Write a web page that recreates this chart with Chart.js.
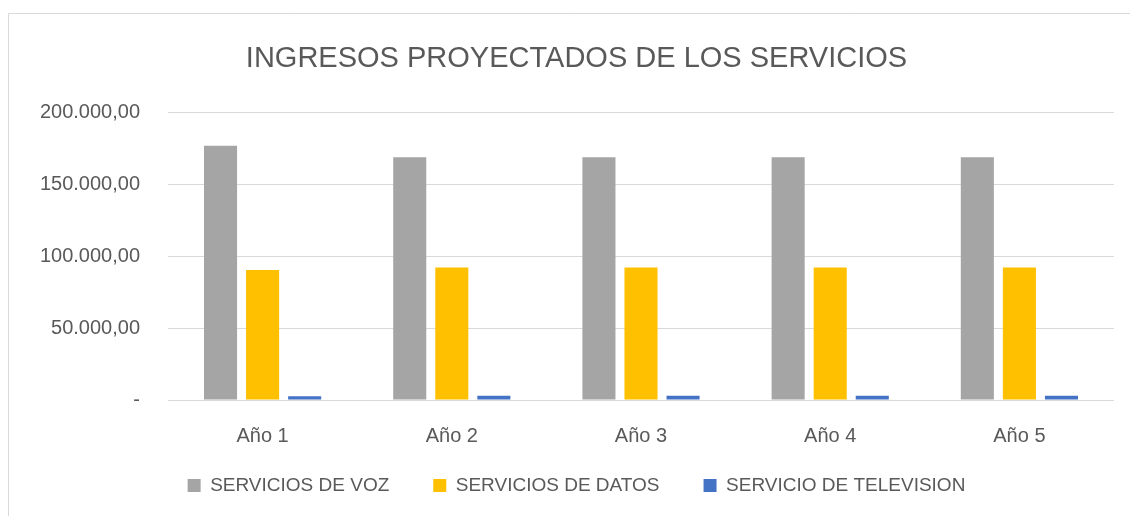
<!DOCTYPE html>
<html>
<head>
<meta charset="utf-8">
<script src="https://cdn.jsdelivr.net/npm/chart.js@4"></script>
<style>
  html, body { margin: 0; padding: 0; background: #ffffff; }
  #wrap { position: relative; width: 1130px; height: 516px; overflow: hidden; }
  canvas { position: absolute; left: 0; top: 0; }
</style>
</head>
<body>
<div id="wrap"><canvas id="c" width="1130" height="516"></canvas></div>
<script>
const categories = ['Año 1', 'Año 2', 'Año 3', 'Año 4', 'Año 5'];
const serviciosVoz = [176500, 168500, 168500, 168500, 168500];
const serviciosDatos = [90300, 92000, 92000, 92000, 92000];
const servicioTelevision = [2600, 3000, 3000, 3000, 3000];
const yTickValues = [0, 50000, 100000, 150000, 200000];
const yTickLabels = ['-', '50.000,00', '100.000,00', '150.000,00', '200.000,00'];

const FONT = '"Liberation Sans", Arial, sans-serif';
const TXT = '#595959';

const frame = {
  id: 'frame',
  beforeDraw(chart) {
    const ctx = chart.ctx;
    ctx.save();
    ctx.fillStyle = '#ffffff';
    ctx.fillRect(0, 0, chart.width, chart.height);
    ctx.strokeStyle = '#d9d9d9';
    ctx.lineWidth = 1;
    ctx.beginPath();
    ctx.moveTo(8.5, chart.height);
    ctx.lineTo(8.5, 13.5);
    ctx.lineTo(chart.width, 13.5);
    ctx.stroke();
    ctx.restore();
  }
};

// let the x-axis labels overflow the (tight) x-axis box instead of being clipped
const labelRoom = {
  id: 'labelRoom',
  afterLayout(chart) {
    const x = chart.scales.x;
    if (x) { x.bottom = x.top + 60; }
  }
};

new Chart(document.getElementById('c'), {
  type: 'bar',
  data: {
    labels: categories,
    datasets: [
      { label: 'SERVICIOS DE VOZ', data: serviciosVoz, backgroundColor: '#A5A5A5' },
      { label: 'SERVICIOS DE DATOS', data: serviciosDatos, backgroundColor: '#FFC000' },
      { label: 'SERVICIO DE TELEVISION', data: servicioTelevision, backgroundColor: '#4472C4' }
    ]
  },
  plugins: [frame, labelRoom],
  options: {
    responsive: false,
    animation: false,
    layout: { padding: { left: 39, right: 16, top: 0, bottom: 11 } },
    datasets: { bar: { categoryPercentage: 0.667, barPercentage: 0.786 } },
    plugins: {
      title: {
        display: true,
        text: 'INGRESOS PROYECTADOS DE LOS SERVICIOS',
        color: TXT,
        font: { family: FONT, size: 29, weight: 'normal' },
        padding: { top: 42, bottom: 35.2 }
      },
      legend: {
        position: 'bottom',
        labels: {
          color: TXT,
          font: { family: FONT, size: 19 },
          boxWidth: 13,
          boxHeight: 13,
          padding: 44
        }
      },
      tooltip: { enabled: false }
    },
    scales: {
      x: {
        afterFit(scale) { scale.height = 32; },
        grid: { display: false },
        border: { display: false },
        ticks: { color: TXT, font: { family: FONT, size: 20 }, padding: 16 }
      },
      y: {
        min: 0,
        max: 200000,
        afterBuildTicks(scale) { scale.ticks = yTickValues.map(v => ({ value: v })); },
        afterFit(scale) { scale.width = 168 - 39; },
        grid: { color: '#d9d9d9', lineWidth: 1, drawTicks: false },
        border: { display: false },
        ticks: {
          color: TXT,
          font: { family: FONT, size: 20 },
          padding: 28,
          callback(value) {
            const i = yTickValues.indexOf(value);
            return i >= 0 ? yTickLabels[i] : '';
          }
        }
      }
    }
  }
});
</script>
</body>
</html>
